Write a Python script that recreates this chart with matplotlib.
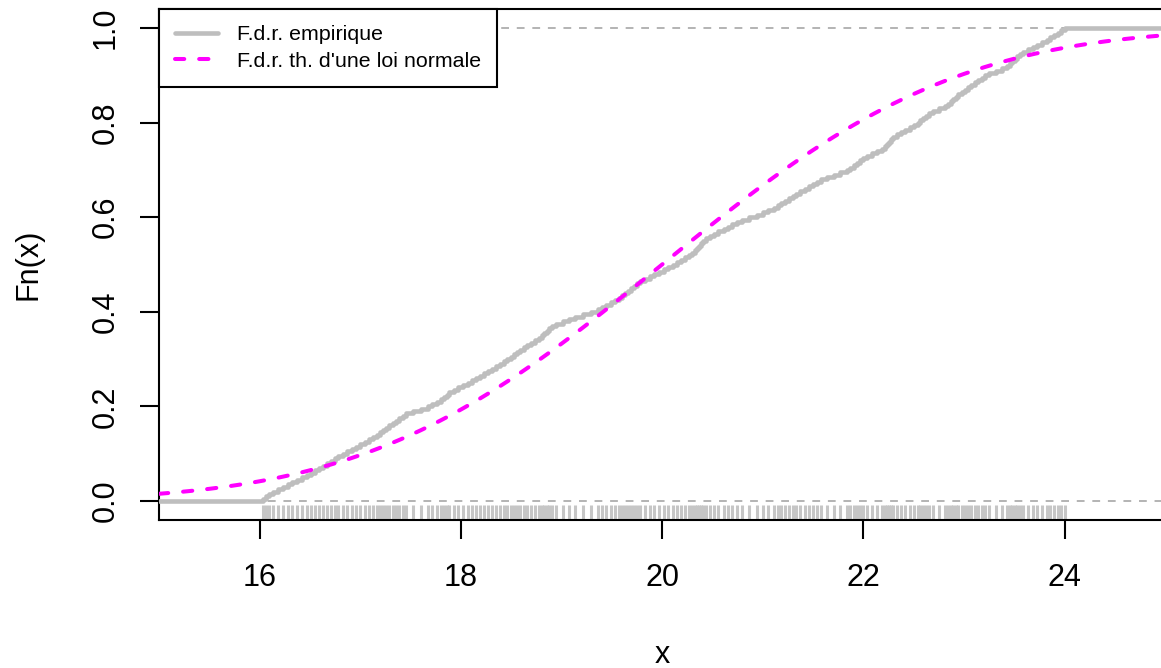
import numpy as np
import matplotlib
matplotlib.use("Agg")
import matplotlib.pyplot as plt
from math import erf, sqrt

# Observed sample (sorted), one value per ECDF jump
sample = [
    16.03, 16.06, 16.09, 16.13, 16.18, 16.23, 16.28, 16.32, 16.37, 16.42,
    16.47, 16.51, 16.55, 16.59, 16.63, 16.67, 16.71, 16.75, 16.78, 16.83,
    16.87, 16.92, 16.96, 17.00, 17.05, 17.09, 17.13, 17.17, 17.20, 17.23,
    17.26, 17.29, 17.33, 17.36, 17.39, 17.42, 17.45, 17.52, 17.60, 17.67,
    17.71, 17.76, 17.80, 17.83, 17.86, 17.88, 17.93, 17.97, 18.02, 18.07,
    18.11, 18.15, 18.19, 18.23, 18.27, 18.31, 18.35, 18.39, 18.43, 18.46,
    18.50, 18.53, 18.56, 18.59, 18.63, 18.66, 18.70, 18.74, 18.78, 18.81,
    18.83, 18.86, 18.88, 18.91, 18.95, 19.01, 19.07, 19.13, 19.21, 19.29,
    19.36, 19.40, 19.44, 19.49, 19.53, 19.57, 19.60, 19.63, 19.66, 19.69,
    19.72, 19.75, 19.78, 19.83, 19.88, 19.92, 19.97, 20.02, 20.06, 20.11,
    20.15, 20.19, 20.23, 20.27, 20.30, 20.33, 20.35, 20.37, 20.39, 20.41,
    20.44, 20.48, 20.52, 20.56, 20.61, 20.65, 20.69, 20.74, 20.79, 20.86,
    20.94, 21.00, 21.05, 21.11, 21.15, 21.18, 21.22, 21.26, 21.30, 21.33,
    21.37, 21.42, 21.46, 21.50, 21.54, 21.58, 21.64, 21.71, 21.77, 21.84,
    21.87, 21.91, 21.94, 21.97, 22.00, 22.04, 22.09, 22.14, 22.19, 22.21,
    22.23, 22.25, 22.27, 22.29, 22.33, 22.37, 22.41, 22.46, 22.50, 22.54,
    22.56, 22.59, 22.62, 22.65, 22.69, 22.75, 22.81, 22.84, 22.87, 22.89,
    22.92, 22.94, 22.98, 23.01, 23.04, 23.07, 23.11, 23.14, 23.18, 23.21,
    23.25, 23.32, 23.38, 23.43, 23.46, 23.48, 23.51, 23.53, 23.56, 23.59,
    23.64, 23.69, 23.73, 23.78, 23.82, 23.85, 23.89, 23.93, 23.96, 24.00,
]

# Parameters of the fitted normal law
mu = 20.0
sigma = 2.31

x_ticks = [16, 18, 20, 22, 24]
y_ticks = [0.0, 0.2, 0.4, 0.6, 0.8, 1.0]
y_tick_labels = ["0.0", "0.2", "0.4", "0.6", "0.8", "1.0"]
legend_labels = ["F.d.r. empirique", "F.d.r. th. d'une loi normale"]
x_label = "x"
y_label = "Fn(x)"

plt.rcParams["font.family"] = ["Liberation Sans", "DejaVu Sans"]

W, H = 1161, 668
fig = plt.figure(figsize=(W / 100, H / 100), dpi=100)
left, right, top, bottom = 159, 1165.25, 9.1, 519.9
ax = fig.add_axes([left / W, (H - bottom) / H, (right - left) / W, (bottom - top) / H])
ax.set_xlim(15, 25)
ax.set_ylim(-0.04, 1.04)

GRAY = "#BEBEBE"
MAGENTA = "#FF00FF"

# Empirical distribution function as a step curve
xs = np.sort(np.array(sample))
n = len(xs)
Fs = np.arange(1, n + 1) / n
step_x = np.concatenate([[15], xs, [25]])
step_y = np.concatenate([[0.0], Fs, [1.0]])
ax.plot(step_x, step_y, drawstyle="steps-post", color=GRAY, lw=3.3,
        solid_joinstyle="round", solid_capstyle="round", zorder=3,
        label=legend_labels[0])

# Reference lines at 0 and 1
for h in (0.0, 1.0):
    ax.axhline(h, color="#B3B3B3", lw=1.4, dashes=(4, 4), zorder=2)

# Theoretical normal CDF
xx = np.linspace(15, 25, 101)
yy = np.array([0.5 * (1 + erf((v - mu) / (sigma * sqrt(2)))) for v in xx])
ax.plot(xx, yy, color=MAGENTA, lw=2.9, dashes=(2.3, 3.7),
        dash_capstyle="round", zorder=4, label=legend_labels[1])

# Rug of observations along the x axis
ax.vlines(xs, 0, 0.03, transform=ax.get_xaxis_transform(), color="#C6C6C6",
          lw=2.2, zorder=2)

# Axes styling
for s in ax.spines.values():
    s.set_linewidth(1.5)
    s.set_color("black")
ax.set_xticks(x_ticks)
ax.set_xticklabels([str(t) for t in x_ticks])
ax.set_yticks(y_ticks)
ax.set_yticklabels(y_tick_labels, rotation=90, va="center")
ax.tick_params(axis="both", length=13.7, width=1.5, labelsize=22, direction="out")
ax.tick_params(axis="x", pad=17)
ax.tick_params(axis="y", pad=14)

fig.text(662 / W, 1 - 663 / H, x_label, ha="center", va="baseline", fontsize=22)
fig.text(28 / W, 1 - 264 / H, y_label, ha="center", va="center", fontsize=22,
         rotation=90)

leg = ax.legend(loc="upper left", bbox_to_anchor=(0, 1), borderaxespad=0,
                fontsize=15.4, handlelength=2.0, handletextpad=0.9,
                labelspacing=0.36, borderpad=0.75, fancybox=False,
                framealpha=1, edgecolor="black")
leg.get_frame().set_linewidth(1.5)
leg.set_zorder(10)

fig.savefig("out.png", dpi=100)
